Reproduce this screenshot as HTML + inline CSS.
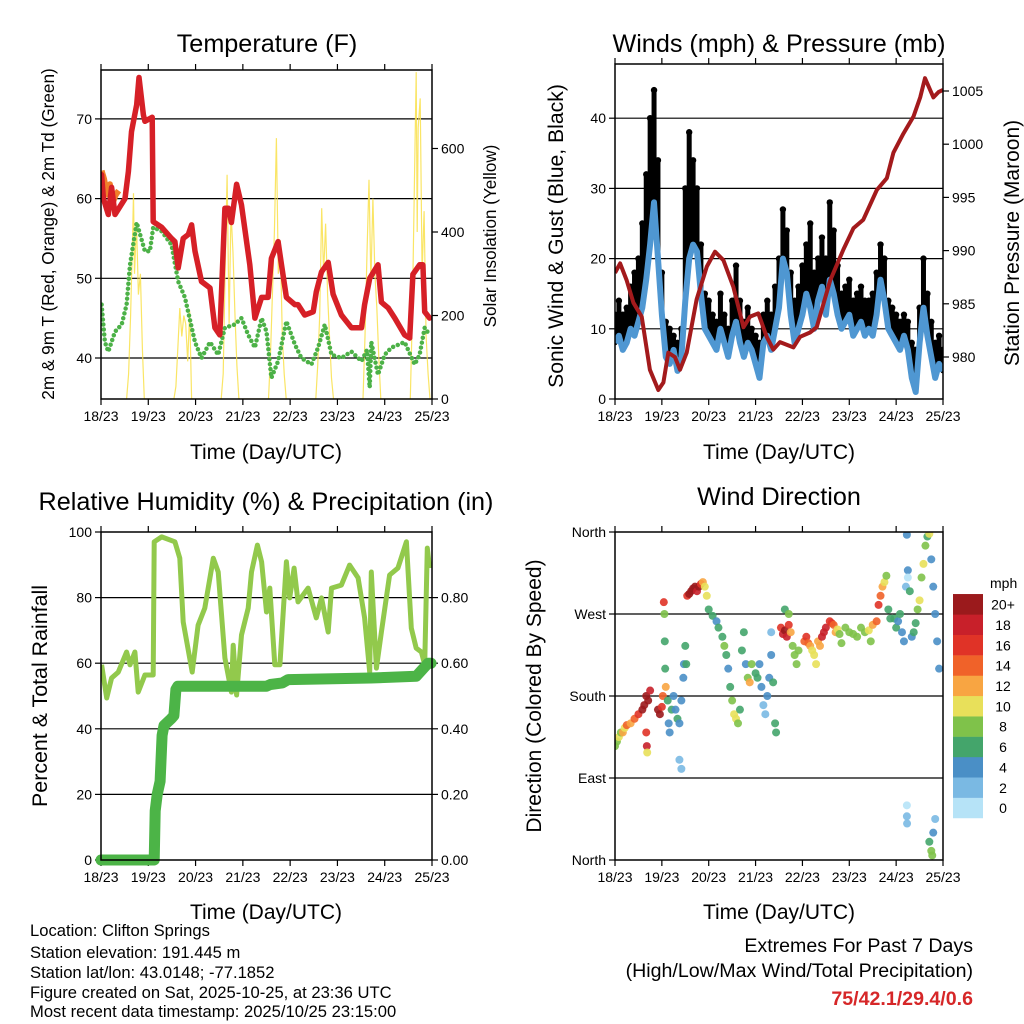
<!DOCTYPE html>
<html><head><meta charset="utf-8"><style>
html,body{margin:0;padding:0;background:#fff;}
svg{display:block;font-family:"Liberation Sans",sans-serif;}
</style></head><body>
<svg id="root" width="1024" height="1024" viewBox="0 0 1024 1024" xmlns="http://www.w3.org/2000/svg">
<defs>
<clipPath id="c1"><rect x="101" y="70" width="331" height="329"/></clipPath>
<clipPath id="c2"><rect x="615" y="64" width="328" height="335"/></clipPath>
<clipPath id="c3"><rect x="101" y="532" width="331" height="328"/></clipPath>
<clipPath id="c4"><rect x="615" y="532" width="328" height="328"/></clipPath>
</defs>
<g font-size="25.2" text-anchor="middle" fill="#000">
<text x="267" y="52">Temperature (F)</text>
<text x="779" y="52">Winds (mph) &amp; Pressure (mb)</text>
<text x="266" y="510">Relative Humidity (%) &amp; Precipitation (in)</text>
<text x="779" y="505">Wind Direction</text>
</g>
<g font-size="21" text-anchor="middle">
<text x="266" y="459">Time (Day/UTC)</text>
<text x="779" y="459">Time (Day/UTC)</text>
<text x="266" y="919">Time (Day/UTC)</text>
<text x="779" y="919">Time (Day/UTC)</text>
<text transform="translate(54,234) rotate(-90)" font-size="17.2">2m &amp; 9m T (Red, Orange) &amp; 2m Td (Green)</text>
<text transform="translate(496,236) rotate(-90)" font-size="17.1">Solar Insolation (Yellow)</text>
<text transform="translate(563,236) rotate(-90)" font-size="21.2">Sonic Wind &amp; Gust (Blue, Black)</text>
<text transform="translate(1019,243) rotate(-90)">Station Pressure (Maroon)</text>
<text transform="translate(47,696) rotate(-90)" font-size="21.4">Percent &amp; Total Rainfall</text>
<text transform="translate(541,696) rotate(-90)">Direction (Colored By Speed)</text>
</g>
<g font-size="16.6">
<text x="30" y="936">Location: Clifton Springs</text>
<text x="30" y="958">Station elevation: 191.445 m</text>
<text x="30" y="978">Station lat/lon: 43.0148; -77.1852</text>
<text x="30" y="998">Figure created on Sat, 2025-10-25, at 23:36 UTC</text>
<text x="30" y="1017">Most recent data timestamp: 2025/10/25 23:15:00</text>
</g>
<g font-size="19.6" text-anchor="end">
<text x="973" y="952">Extremes For Past 7 Days</text>
<text x="973" y="977">(High/Low/Max Wind/Total Precipitation)</text>
<text x="973" y="1005" fill="#d62728" font-weight="bold">75/42.1/29.4/0.6</text>
</g>
<g id="marks"></g>
</svg>
<script>
const dayLabels=["18/23","19/23","20/23","21/23","22/23","23/23","24/23","25/23"];
const tempTicks=[40,50,60,70];
const solarTicks=[0,200,400,600];
const windTicks=[0,10,20,30,40];
const presTicks=[980,985,990,995,1000,1005];
const rhTicks=[0,20,40,60,80,100];
const rainTicks=["0.00","0.20","0.40","0.60","0.80"];
const dirTicks=[0,90,180,270,360];
const dirLabels=["North","East","South","West","North"];
const cbLabels=["0","2","4","6","8","10","12","14","16","18","20+"];
const cbColors=["#b6e3f7","#7ab9e3","#4a8fc6","#44a56b","#7fc24a","#e8e05a","#f8a542","#f06229","#e03327","#c8202a","#9b1a1c"];

const tempHours=[0.3,1.2,3.7,5.4,7.1,12.2,13.9,15.5,18.1,19.3,21.5,22.3,26,26.5,30.8,35.8,37.5,39.2,41.7,44.3,46,47.7,51,55.3,57.8,60.3,62.9,64.6,66.2,68.8,71.3,75.5,78.1,81.5,84.8,86.5,89.9,91.6,94.1,98.4,100,103.4,107.7,109.3,111.9,115.3,117.8,122,127.1,132.2,133.8,136.4,140.6,142.3,145.7,149.1,154.1,156.7,158.3,161.7,163.4,164.3,166.8];
const tempVals=[63,60,58,61.4,58,60,63.4,68.4,71.8,75.2,70.5,69.7,70.2,57.1,56.4,55,54.6,51.3,55,55.5,56.7,53.4,49.6,48.8,43.8,42.9,58.8,58.8,57,61.8,59.2,51.7,45,47.6,47.6,52.5,54.6,51.7,47.6,46.7,46.7,45.4,45.8,48.3,50.8,52,48,45.4,43.8,43.8,46.7,50,51.7,47,46.3,45,42.9,42.5,50.5,51.7,51.7,45.8,45];
const t9Hours=[0.3,1.5,3,4.5,6,7.5,9];
const t9Vals=[63.5,62.5,60.5,61.8,59.5,60.5,61];
const dewHours=[0.3,2,3.7,7.1,10.5,13,14.7,18.1,22.3,24.8,26.5,30.8,35.8,39.2,42.6,47.7,51,55.3,59.5,62.9,67.9,71.3,74.7,78.1,81.5,84,86.5,89.9,94.1,98.4,101.7,106.8,110.2,113.6,117,122,127.1,132.2,135,136.4,137.2,140.6,144,147.4,154.1,159.2,161.7,164.3,166.8];
const dewVals=[46.7,42,40.8,43.3,44.2,46.7,51.7,57,53.4,53.4,56.4,55.9,54.2,49.6,47.6,42,40,42,40.4,43.8,44.2,45,42.9,41.3,45,43.3,37.5,39.6,44.6,41.7,40,39.2,41.3,44.2,40.4,40,40.8,39.6,41,36.3,42,37.9,40.4,41.3,42,39.2,40.4,43.8,42.9];
const solarHours=[13,14,15,16,16.5,17,18,19,20,21,22,37,38,39,40,41,42,43,44,45,46,61,62,63,64,65,66,67,68,69,70,85,86,87,88,89,90,91,92,93,94,109,110,111,112,113,114,115,116,117,118,133,134,135,136,137,138,139,140,141,142,157,158,159,160,160.5,161,162,163,164,165,166,167];
const solarVals=[0,60,200,380,493,300,420,250,300,120,0,0,30,120,218,150,200,180,90,210,0,0,60,300,537,180,450,350,200,80,0,0,100,250,400,625,300,380,150,60,0,0,80,200,457,300,420,250,150,50,0,0,150,350,525,280,480,300,220,100,0,0,200,500,783,400,650,720,300,450,150,60,0];

const windHours=[0,2,4,6,8,10,12,14,16,18,20,22,24,26,28,30,32,34,36,38,40,42,44,46,48,50,52,54,56,58,60,62,64,66,68,70,72,74,76,78,80,82,84,86,88,90,92,94,96,98,100,102,104,106,108,110,112,114,116,118,120,122,124,126,128,130,132,134,136,138,140,142,144,146,148,150,152,154,156,158,160,162,164,166,168];
const windVals=[8,9,7,8,10,9,11,13,17,22,28,20,12,6,5,7,4,6,14,20,22,21,15,10,9,8,7,10,8,6,9,11,8,6,8,7,5,3,8,9,7,10,13,20,18,12,8,10,12,15,13,10,14,16,12,17,15,12,10,11,12,9,10,11,9,10,9,12,17,14,10,9,8,7,9,7,3,1,8,13,9,6,3,5,4];
const gustVals=[12,14,12,13,16,18,20,25,32,40,44,34,18,11,10,9,8,10,30,38,34,30,22,15,14,12,11,15,12,10,14,19,14,11,13,10,9,8,12,14,12,16,20,27,24,18,14,16,19,22,25,18,20,23,20,28,24,19,15,16,17,14,15,16,14,14,15,18,22,20,14,13,12,11,12,11,8,7,13,20,15,11,8,9,7];
const presHours=[0,2.6,6,9.4,13.7,17.9,22.2,24.8,27.3,30.7,33.3,36.7,41.8,47,51.2,55.5,60.6,65.8,69.2,73.4,77.7,81.1,84.5,91.4,94.8,99.9,103.3,110.2,117,122.1,127.2,134.1,139.2,142.6,147.7,152.9,156.3,158.8,163.1,165.7,168];
const presVals=[987.9,988.8,987.2,985.1,983.8,978.8,976.9,977.6,980.4,980,978.8,980.4,985.4,988.5,989.9,989.1,986.6,982.8,983.8,984.1,981.9,980.7,981.4,980.9,981.9,982.3,982.8,987.2,990.1,992.1,992.9,995.7,996.8,999.2,1001,1002.6,1004.4,1006.2,1004.4,1004.9,1005.1];

const rhHours=[0.3,2.9,5.4,8.8,13,14.7,17.2,18.9,22.3,26.5,27,30.8,37.5,40,41.7,46.3,49.3,52.7,57,59.5,62.9,66.2,67.1,68.8,71.3,74.7,76.4,79.4,81.5,84,85.7,88.2,90.8,94.1,95.8,98,100,105.1,109.3,111.9,115.3,117,122,126.2,130.5,133.8,136.4,137.2,139.8,142.3,146.5,150.7,155,157.5,160,162.6,164.3,165.6,166.8];
const rhVals=[59.5,49.4,55.5,57.3,63.4,59.5,63.4,51.2,56.4,56.4,97,98.5,97,92,72.6,57.3,71.6,76.8,92,87.8,61.6,51.2,65.5,50.3,68.6,76.8,87.8,96,90.9,75.6,82.9,59.5,59.5,90.9,79.9,89,78.7,82.9,73.8,79.9,69.5,82.9,83.8,89.9,86,73.8,57.3,87.8,58.5,69.5,86.9,89,97,70.7,64.6,63.4,59.5,95.1,89];
const rainHours=[0,27,27.5,28.5,30,31,32,35.5,37,38,39,84,86,92,95,137,160,166,167.5];
const rainVals=[0,0,0.15,0.2,0.24,0.38,0.41,0.43,0.44,0.52,0.53,0.53,0.535,0.54,0.55,0.555,0.56,0.6,0.6];

const dirHours=[0,1,2,3,4,5,6,8,10,12,14,15,16,17,18,16,16.3,16.5,22,23,24,24.5,25,25.3,25.5,25.7,26,27,27.5,28,29,30,31,32,33,34,35,35.3,36,36.5,33,34,37,38,39,40,41,42,43,44,45,46,47,48,50,52,53,55,56,57,58,59,60,61,62,63,64,65,66,67,68,69,70,72,73,74,75,76,77,78,79,80,81,82,82.5,80,85,86,87,88,89,90,91,92,93,94,87,89,97,98,99,100,101,102,103,104,105,106,107,108,110,111,112,113,114,115,116,118,120,122,124,126,128,130,131,132,134,135,136,137,138,139,140,141,143,144,145,146,147,148,149,150,151,152,153,154,155,156,157,158,159,160,161,162,163,164,165,166,149.5,149.5,149.6,161,162,163,164,162.5,149.5,150];
const dirVals=[125,130,135,140,140,145,148,150,155,160,165,170,180,175,186,140,125,118,165,160,168,180,283,270,240,210,190,175,150,140,165,180,165,155,150,175,200,215,235,215,110,100,290,292,295,298,300,295,300,303,305,300,290,275,268,262,255,245,235,225,210,190,175,160,155,150,165,230,250,215,200,195,215,205,200,215,190,170,160,180,200,225,195,150,140,250,255,248,252,245,258,250,235,225,215,230,275,270,240,245,238,235,230,225,215,240,235,245,250,255,262,260,258,250,253,248,238,255,250,248,245,255,250,252,240,258,262,280,290,300,305,312,275,265,265,255,262,270,250,240,300,318,295,245,250,260,275,285,310,325,345,355,358,330,300,270,240,210,60,48,40,20,10,30,45,5,357,310];
const dirSpeeds=[8,8,10,9,12,11,14,13,14,16,20,20,20,20,18,16,18,10,20,20,16,14,16,8,6,6,12,6,4,4,6,5,4,6,4,5,4,4,6,7,2,3,16,20,20,20,20,18,20,16,12,10,10,6,7,5,6,7,8,6,5,6,8,10,10,9,7,6,7,5,9,12,8,6,6,5,4,2,2,4,4,5,6,6,6,2,16,18,20,18,16,12,9,8,8,8,6,8,14,16,14,12,10,10,10,12,12,18,18,18,16,16,14,12,10,9,8,8,9,8,9,8,9,10,8,12,14,16,14,12,10,8,6,6,6,6,5,6,4,4,3,4,6,4,6,6,8,10,8,10,8,6,10,5,4,4,4,4,1,2,2,6,8,4,2,8,4,1];

const NS="http://www.w3.org/2000/svg";
const marks=document.getElementById('marks');
function el(tag,attrs,parent){const e=document.createElementNS(NS,tag);for(const k in attrs)e.setAttribute(k,attrs[k]);(parent||marks).appendChild(e);return e;}
function ptsStr(hs,vs,fx,fy){return hs.map((h,i)=>fx(h).toFixed(1)+","+fy(vs[i]).toFixed(1)).join(" ");}

const P1={x0:101,x1:432,y0:70,y1:399},P2={x0:615,x1:943,y0:64,y1:399},P3={x0:101,x1:432,y0:532,y1:860},P4={x0:615,x1:943,y0:532,y1:860};
function xf(P){return h=>P.x0+h/168*(P.x1-P.x0);}
const x1f=xf(P1),x2f=xf(P2),x3f=xf(P3),x4f=xf(P4);
const yT=v=>358-(v-40)*7.97, yS=v=>399-v*0.4175, yW=v=>399-v*7.02, yP=p=>357-(p-980)*10.64;
const yR=v=>860-v*3.28, yPr=p=>860-p*328, yD=d=>860-d*0.9111;

function frame(P,name,grid,fy){
  const g=el('g',{});
  
  
  grid.forEach(v=>{const l=el('line',{x1:P.x0,x2:P.x1,y1:fy(v),y2:fy(v),stroke:'#000','stroke-width':1.2},g);
    
    });
  dayLabels.forEach((d,i)=>{const x=P.x0+i*(P.x1-P.x0)/7;
    el('line',{x1:x,x2:x,y1:P.y1,y2:P.y1+6,stroke:'#000','stroke-width':1.2},g);
    el('line',{x1:x,x2:x,y1:P.y0,y2:P.y0-6,stroke:'#000','stroke-width':1.2},g);
    const t=el('text',{x:x,y:P.y1+22,'font-size':14,'text-anchor':'middle'},g);t.textContent=d;
    
    });
  return g;
}
function border(P,name){const r=el('rect',{x:P.x0,y:P.y0,width:P.x1-P.x0,height:P.y1-P.y0,fill:'none',stroke:'#000','stroke-width':1.5});
  
  }
function yticks(P,vals,labels,fy,side,name){
  vals.forEach((v,i)=>{const y=fy(v);const x=side==='l'?P.x0:P.x1;const d=side==='l'?-6:6;
    el('line',{x1:x,x2:x+d,y1:y,y2:y,stroke:'#000','stroke-width':1.2});
    const t=el('text',{x:x+(side==='l'?-9:9),y:y+5,'font-size':14,'text-anchor':side==='l'?'end':'start'});
    t.textContent=labels[i];
    
    });
}

// Panel 1
frame(P1,'temperature',tempTicks,yT);
yticks(P1,tempTicks,tempTicks,yT,'l','temp');
yticks(P1,solarTicks,solarTicks,yS,'r','solar');
const g1=el('g',{'clip-path':'url(#c1)'});
const sol=el('polyline',{points:ptsStr(solarHours,solarVals,x1f,yS),fill:'none',stroke:'#f9e04a','stroke-width':1.2,opacity:0.85},g1);


const dew=el('polyline',{points:ptsStr(dewHours,dewVals,x1f,yT),fill:'none',stroke:'#4cb147','stroke-width':4.5,'stroke-linecap':'round','stroke-dasharray':'0 5'},g1);


const t9=el('polyline',{points:ptsStr(t9Hours,t9Vals,x1f,yT),fill:'none',stroke:'#f07f2a','stroke-width':6,'stroke-linejoin':'round'},g1);


const t2=el('polyline',{points:ptsStr(tempHours,tempVals,x1f,yT),fill:'none',stroke:'#d62027','stroke-width':5.5,'stroke-linejoin':'round','stroke-linecap':'round'},g1);


border(P1,'temperature');

// Panel 2
frame(P2,'winds',[10,20,30,40],yW);
yticks(P2,windTicks,windTicks,yW,'l','wind');
yticks(P2,presTicks,presTicks,yP,'r','pressure');
const g2=el('g',{'clip-path':'url(#c2)'});
windHours.forEach((h,i)=>{
  const c=el('line',{x1:x2f(h),x2:x2f(h),y1:yW(windVals[i]),y2:yW(gustVals[i]),stroke:'#000','stroke-width':5,'stroke-linecap':'round'},g2);
  
  
  const d=el('circle',{cx:x2f(h),cy:yW(gustVals[i]),r:3.2,fill:'#000'},g2);
  
  
});
const wl=el('polyline',{points:ptsStr(windHours,windVals,x2f,yW),fill:'none',stroke:'#4f97d2','stroke-width':6,'stroke-linejoin':'round'},g2);


const pl=el('polyline',{points:ptsStr(presHours,presVals,x2f,yP),fill:'none',stroke:'#a31a1c','stroke-width':4,'stroke-linejoin':'round'},g2);


border(P2,'winds');

// Panel 3
frame(P3,'humidity',[20,40,60,80],yR);
yticks(P3,rhTicks,rhTicks,yR,'l','rh');
yticks(P3,rainTicks.map(Number),rainTicks,yPr,'r','rain');
const g3=el('g',{'clip-path':'url(#c3)'});
const rl=el('polyline',{points:ptsStr(rhHours,rhVals,x3f,yR),fill:'none',stroke:'#92c94c','stroke-width':5,'stroke-linejoin':'round'},g3);


const pr=el('polyline',{points:ptsStr(rainHours,rainVals,x3f,yPr),fill:'none',stroke:'#4cb447','stroke-width':11,'stroke-linejoin':'round','stroke-linecap':'round'},marks);


border(P3,'humidity');

// Panel 4
frame(P4,'wind-direction',[90,180,270],yD);
yticks(P4,dirTicks,dirLabels,yD,'l','direction');
const g4=el('g',{'clip-path':'url(#c4)'});
dirHours.forEach((h,i)=>{
  const ci=Math.min(10,Math.floor(dirSpeeds[i]/2));
  const c=el('circle',{cx:x4f(h),cy:yD(dirVals[i]),r:4,fill:cbColors[ci],opacity:0.9},g4);
  
  
});
border(P4,'wind-direction');

// colorbar
const cbt=el('text',{x:990,y:588,'font-size':14});cbt.textContent='mph';


cbColors.forEach((c,i)=>{const y=818-(i+1)*20.36;
  const r=el('rect',{x:953,y:y,width:30,height:20.6,fill:c});
  
  
  const t=el('text',{x:1003,y:y+15.5,'font-size':14,'text-anchor':'middle'});t.textContent=cbLabels[i];
  
  });
</script>
</body></html>
